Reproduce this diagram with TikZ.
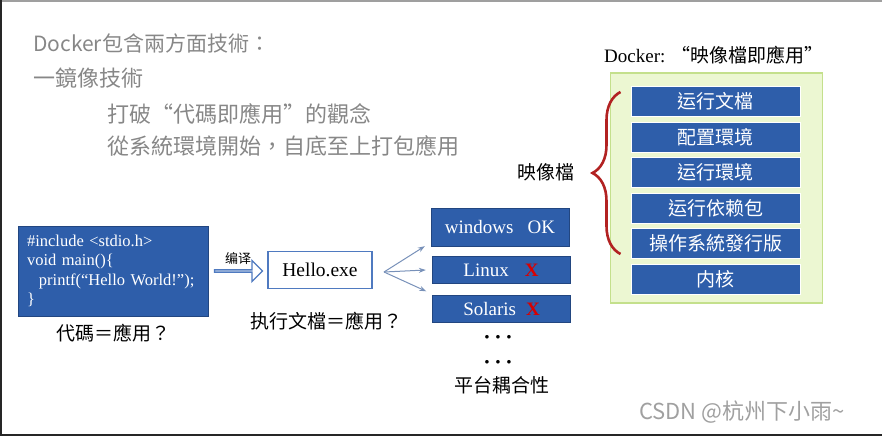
\documentclass[tikz,border=0pt]{standalone}
\usepackage{fontspec}
\setmainfont{Liberation Serif}
\newfontfamily\cjk{Noto Sans CJK TC}
\usetikzlibrary{positioning, shapes.arrows, decorations.pathreplacing, arrows.meta}
\definecolor{boxblue}{RGB}{46,94,170}
\definecolor{lineblue}{RGB}{79,122,192}
\definecolor{fanblue}{RGB}{120,145,185}
\definecolor{panelfill}{RGB}{236,247,210}
\definecolor{paneldraw}{RGB}{196,224,140}
\definecolor{bracered}{RGB}{178,34,34}
\definecolor{headgray}{RGB}{135,135,135}
\definecolor{markgray}{RGB}{160,160,160}

\begin{document}
\begin{tikzpicture}[
        x=1pt, y=-1pt,
        head/.style={anchor=west, inner sep=0pt, text=headgray, font=\cjk\fontsize{22}{26}\selectfont},
        lbl/.style={inner sep=0pt, font=\cjk\fontsize{19}{22}\selectfont},
        layer/.style={rectangle, draw=white, line width=1pt, fill=boxblue, minimum width=169pt, minimum height=30pt, inner sep=0pt, text=white, font=\cjk\fontsize{19}{22}\selectfont},
        plat/.style={rectangle, draw=boxblue!75!black, fill=boxblue, minimum width=138pt, minimum height=27pt, inner sep=0pt, text=white, font=\fontsize{19}{22}\selectfont},
        code/.style={rectangle, draw=boxblue!75!black, fill=boxblue, minimum width=190pt, minimum height=90pt, text width=172pt, align=left, text=white, font=\fontsize{16.5}{19.5}\selectfont},
        exe/.style={rectangle, draw=lineblue, line width=1.3pt, fill=white, minimum width=104pt, minimum height=37pt, inner sep=0pt, font=\fontsize{19.5}{22}\selectfont},
        fan/.style={-{Stealth[length=7pt, width=5pt]}, draw=fanblue, line width=1pt},
        brace/.style={decorate, decoration={brace, amplitude=28pt}, draw=bracered, line width=2.6pt},
        dots/.style={inner sep=0pt, font=\bfseries\fontsize{22}{24}\selectfont},
    ]
    \useasboundingbox (0,0) rectangle (882,439);

    % ===== Headings =====
    \node[head, font=\cjk\fontsize{21}{26}\selectfont] (H1) at (33,43) {Docker包含兩方面技術：};
    \node[head] (H2) at (33,78) {一鏡像技術};
    \node[head] (H3) at (107,114) {打破“代碼即應用”的觀念};
    \node[head] (H4) at (107,146) {從系統環境開始，自底至上打包應用};

    % ===== Right: image layers =====
    \node[inner sep=0pt, font=\fontsize{19}{22}\selectfont] (T1) at (714,55) {Docker: {\cjk “映像檔即應用”}};
    \node[rectangle, draw=paneldraw, line width=1.5pt, fill=panelfill, minimum width=212pt, minimum height=230pt] (panel) at (716.5,188) {};

    \node[layer] (L1) at (715.5,101.5) {运行文檔};
    \node[layer, below=4.5pt of L1] (L2) {配置環境};
    \node[layer, below=4.5pt of L2] (L3) {运行環境};
    \node[layer, below=4.5pt of L3] (L4) {运行依赖包};
    \node[layer, below=4.5pt of L4] (L5) {操作系統發行版};
    \node[layer, below=4.5pt of L5] (L6) {内核};

    \coordinate (BT) at ([xshift=-10pt, yshift=-6pt]L1.north west);
    \coordinate (BB) at ([xshift=-10pt, yshift=5pt]L5.south west);
    \draw[brace] (BB) -- (BT);
    \node[lbl, anchor=east] (img) at (575,172) {映像檔};

    % ===== Left: code -> exe =====
    \node[code] (src) at (113,271) {\#include <stdio.h>\\void main()\{\\\hspace*{12pt}printf(“Hello World!”);\\\}};
    \node[lbl] (N1) at (113,333) {代碼＝應用？};

    \node[single arrow, draw=lineblue, fill=white, line width=1.3pt, minimum height=48pt, minimum width=21pt, single arrow head extend=5.5pt, inner sep=0pt] (cmp) at (238,271) {};
    \node[inner sep=0pt, font=\cjk\fontsize{13}{15}\selectfont, above=4pt of cmp] (cc) {编译};

    \node[exe] (exe) at (320,270) {Hello.exe};
    \node[lbl] (N2) at (326,321) {执行文檔＝應用？};

    % ===== Platforms =====
    \node[plat, minimum height=38pt] (win) at (500,227) {windows\hspace{14pt}OK};
    \node[plat] (lin) at (501,270) {Linux\hspace{16pt}{\color{red!85!black}\textbf{X}}};
    \node[plat] (sol) at (501.5,309) {Solaris\hspace{10pt}{\color{red!85!black}\textbf{X}}};

    \coordinate (fork) at (384,272);
    \draw[fan] (fork) -- ([xshift=-6pt]win.south west);
    \draw[fan] (fork) -- ([xshift=-6pt]lin.west);
    \draw[fan] (fork) -- ([xshift=-6pt, yshift=4pt]sol.north west);

    \node[dots] (d1) at (498,340) {·\,·\,·};
    \node[dots] (d2) at (498,365) {·\,·\,·};
    \node[lbl] (N3) at (502,385) {平台耦合性};

    % ===== Watermark & frame =====
    \node[inner sep=0pt, anchor=west, text=markgray, font=\cjk\fontsize{22}{26}\selectfont] (wm) at (639,412) {CSDN @杭州下小雨\textasciitilde};
    \draw[gray!75, line width=2pt] (0,1) -- (882,1);
    \draw[black!85, line width=2.5pt] (1,0) -- (1,436);
    \draw[black!85, line width=2.5pt] (0,435) -- (882,435);
\end{tikzpicture}
\end{document}
